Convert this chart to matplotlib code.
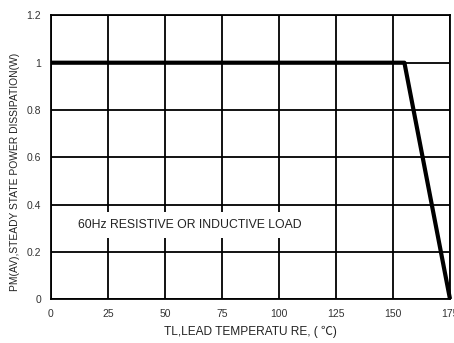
import matplotlib
matplotlib.use("Agg")
import matplotlib.pyplot as plt

plt.rcParams['font.family'] = ['Liberation Sans', 'Noto Sans CJK SC', 'DejaVu Sans']

temps = [0, 155, 175]
power = [1.0, 1.0, 0.0]
x_ticks = [0, 25, 50, 75, 100, 125, 150, 175]
y_ticks = [0, 0.2, 0.4, 0.6, 0.8, 1, 1.2]
y_tick_labels = ["0", "0.2", "0.4", "0.6", "0.8", "1", "1.2"]

fig = plt.figure(figsize=(4.54, 3.43), dpi=100)
ax = fig.add_axes([0.1123, 0.128, 0.8789, 0.827])
ax.set_xlim(0, 175)
ax.set_ylim(0, 1.2)
ax.set_xticks(x_ticks)
ax.set_xticklabels([str(t) for t in x_ticks])
ax.set_yticks(y_ticks)
ax.set_yticklabels(y_tick_labels)
ax.tick_params(length=0, labelsize=7.5, colors='#333333')
ax.tick_params(axis='y', pad=7)
ax.tick_params(axis='x', pad=7)
ax.grid(True, color='black', linewidth=1.3)
ax.set_axisbelow(True)
for s in ax.spines.values():
    s.set_color('black')
    s.set_linewidth(1.3)

ax.plot(temps, power, color='black', linewidth=3.0, solid_capstyle='butt', zorder=5, clip_on=False)

ax.text(12, 0.313, "60Hz RESISTIVE OR INDUCTIVE LOAD", fontsize=8.8, color='#222222',
        va='center', ha='left',
        bbox=dict(facecolor='white', edgecolor='none', pad=5), zorder=4)

ax.set_xlabel("TL,LEAD TEMPERATU RE, ( ℃)", fontsize=8.6, color='#222222', labelpad=5)
ax.set_ylabel("PM(AV),STEADY STATE POWER DISSIPATION(W)", fontsize=7.4, color='#222222')
ax.yaxis.set_label_coords(-0.077, 0.45)

fig.savefig("out.png", dpi=100)
